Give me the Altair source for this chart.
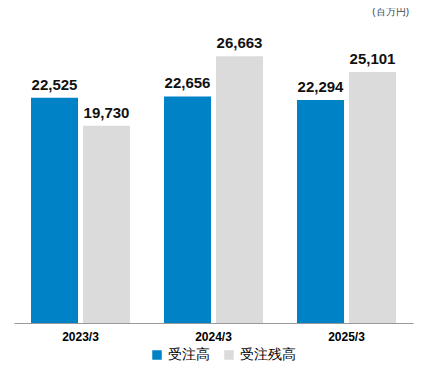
import altair as alt
import pandas as pd

years = ["2023/3", "2024/3", "2025/3"]
orders = [22525, 22656, 22294]
backlog = [19730, 26663, 25101]
series = ["受注高", "受注残高"]
colors = ["#0082C6", "#DBDBDB"]

rows = []
for i, y in enumerate(years):
    rows.append({"year": y, "series": series[0], "value": orders[i]})
    rows.append({"year": y, "series": series[1], "value": backlog[i]})
df = pd.DataFrame(rows)

font = "Liberation Sans"

base = alt.Chart(df).encode(
    x=alt.X("year:N", sort=years, scale=alt.Scale(paddingInner=0, paddingOuter=0),
            axis=alt.Axis(title=None, labelAngle=0, labelFontWeight="bold", labelFontSize=12,
                          labelColor="#000", labelFont=font, ticks=False, domainColor="#999",
                          labelPadding=8)),
    xOffset=alt.XOffset("series:N", sort=series,
                        scale=alt.Scale(paddingInner=0.096, paddingOuter=0.327)),
    y=alt.Y("value:Q", scale=alt.Scale(domain=[0, 30000]), axis=None),
)

bars = base.mark_bar().encode(
    color=alt.Color("series:N", sort=series, scale=alt.Scale(domain=series, range=colors),
                    legend=alt.Legend(title=None, orient="none", legendX=136, legendY=325,
                                      direction="horizontal", symbolType="square",
                                      symbolSize=90, symbolStrokeWidth=0, labelFontSize=14,
                                      labelFont=font, labelColor="#000", columnPadding=12,
                                      symbolOpacity=1))
)

labels = base.mark_text(baseline="bottom", dy=-5, fontSize=15, fontWeight="bold",
                        font=font, color="#111").encode(
    text=alt.Text("value:Q", format=",")
)

chart = (bars + labels).properties(
    width=399, height=300,
    autosize="none",
    padding={"left": 6, "top": 15, "right": 4, "bottom": 50},
    title=alt.TitleParams("(百万円)", anchor="end", fontSize=10, fontWeight="normal",
                          color="#444", offset=6, dx=-4, font=font),
).configure_view(stroke=None)

chart.save("out.html", embed_options={"renderer": "svg", "actions": False})
